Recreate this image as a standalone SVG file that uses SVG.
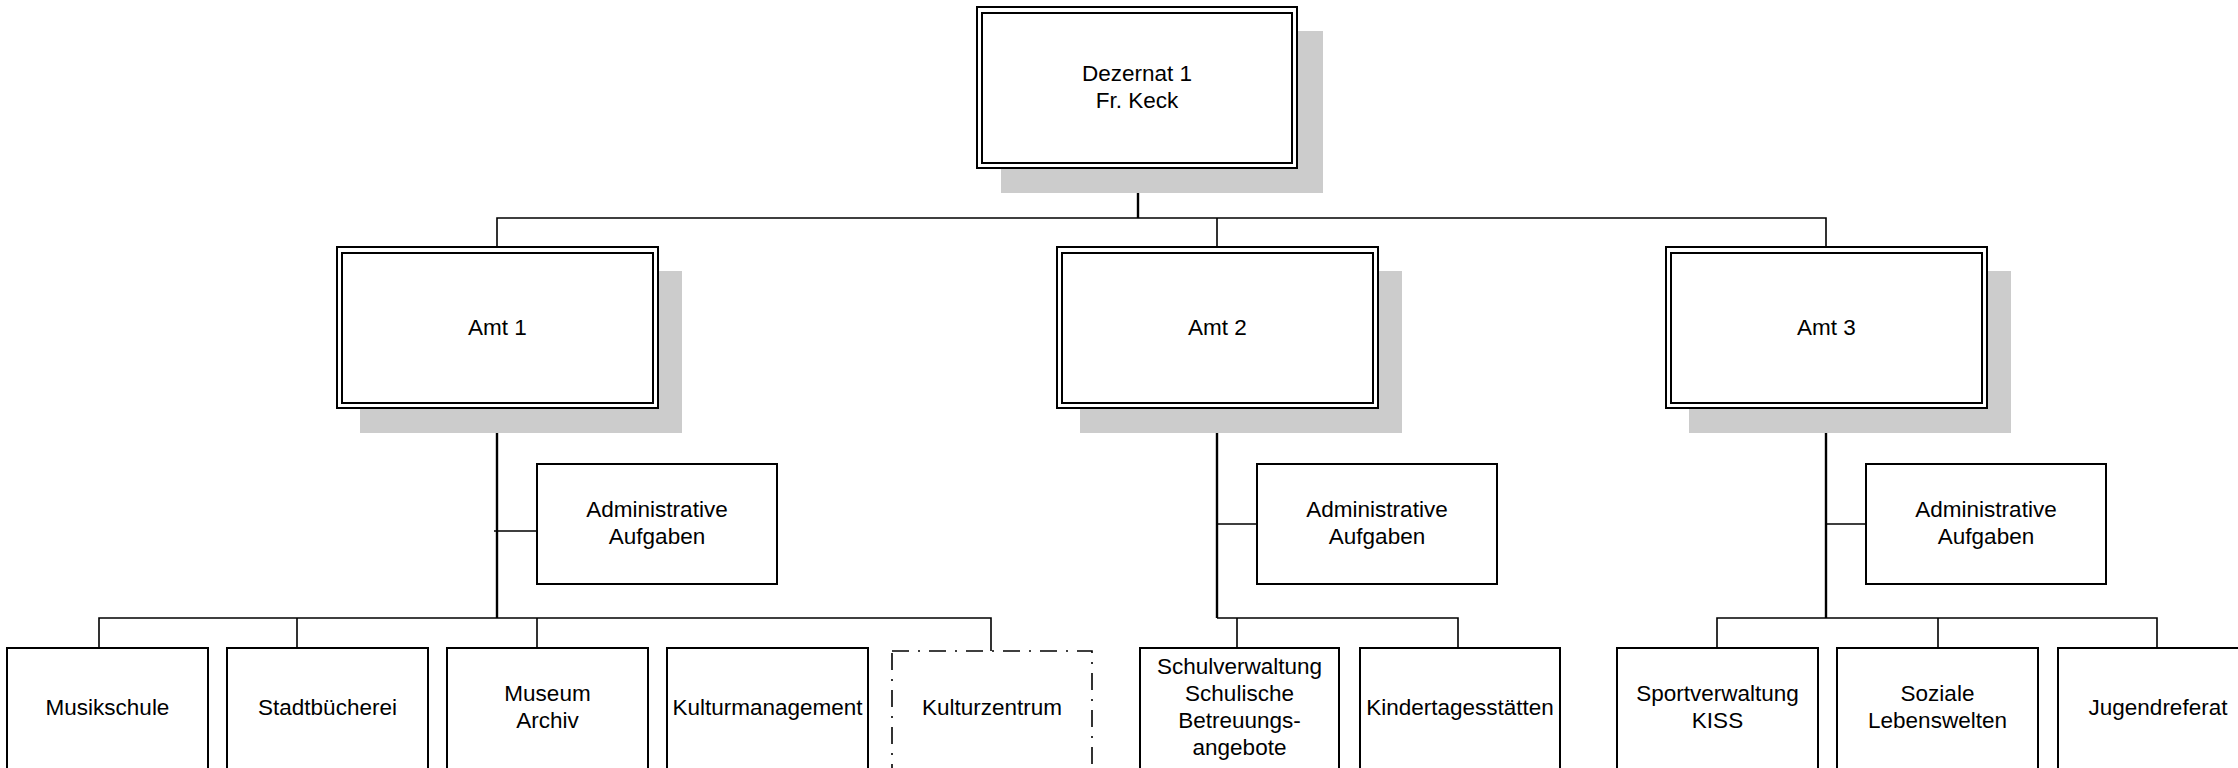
<svg xmlns="http://www.w3.org/2000/svg" width="2238" height="768" viewBox="0 0 2238 768">
<style>
.shadow{fill:#cccccc;stroke:none}
.outer,.inner,.box{fill:#ffffff;stroke:#000000;stroke-width:2}
.inner{fill:none}
.dashed{fill:#ffffff;stroke:#000000;stroke-width:1.6;stroke-dasharray:17 9 2 9}
.t{font-family:"Liberation Sans",Arial,sans-serif;font-size:22.5px;fill:#000000;text-anchor:middle}
.c{fill:none;stroke:#000000;stroke-width:1.6}
.cm{fill:none;stroke:#000000;stroke-width:2.4}
</style>
<rect width="2238" height="768" fill="#ffffff"/>
<g id="connectors">
<path class="cm" d="M1138 168V218"/>
<path class="c" d="M497 247V218H1826V247M1217 218V247"/>
<path class="cm" d="M497 408V618M1217 408V618M1826 408V618"/>
<path class="c" d="M494 531H537M1217 524H1257M1826 524H1866"/>
<path class="c" d="M99 648V618H991V651M297 618V648M537 618V648"/>
<path class="c" d="M1217 618H1458V648M1237 618V648"/>
<path class="c" d="M1717 648V618H2157V648M1938 618V648"/>
</g>
<g id="dezernat">
<rect class="shadow" x="1001" y="31" width="322" height="162"/>
<rect class="outer" x="977" y="7" width="320" height="161"/>
<rect class="inner" x="982" y="13" width="310" height="150"/>
<text class="t" x="1137" y="81">Dezernat 1</text>
<text class="t" x="1137" y="108">Fr. Keck</text>
</g>
<g id="amt1">
<rect class="shadow" x="360" y="271" width="322" height="162"/>
<rect class="outer" x="337" y="247" width="321" height="161"/>
<rect class="inner" x="342" y="253" width="311" height="150"/>
<text class="t" x="497.5" y="335">Amt 1</text>
</g>
<g id="amt2">
<rect class="shadow" x="1080" y="271" width="322" height="162"/>
<rect class="outer" x="1057" y="247" width="321" height="161"/>
<rect class="inner" x="1062" y="253" width="311" height="150"/>
<text class="t" x="1217.5" y="335">Amt 2</text>
</g>
<g id="amt3">
<rect class="shadow" x="1689" y="271" width="322" height="162"/>
<rect class="outer" x="1666" y="247" width="321" height="161"/>
<rect class="inner" x="1671" y="253" width="311" height="150"/>
<text class="t" x="1826.5" y="335">Amt 3</text>
</g>
<g id="admin1">
<rect class="box" x="537" y="464" width="240" height="120"/>
<text class="t" x="657" y="517">Administrative</text>
<text class="t" x="657" y="544">Aufgaben</text>
</g>
<g id="admin2">
<rect class="box" x="1257" y="464" width="240" height="120"/>
<text class="t" x="1377" y="517">Administrative</text>
<text class="t" x="1377" y="544">Aufgaben</text>
</g>
<g id="admin3">
<rect class="box" x="1866" y="464" width="240" height="120"/>
<text class="t" x="1986" y="517">Administrative</text>
<text class="t" x="1986" y="544">Aufgaben</text>
</g>
<g id="musikschule">
<rect class="box" x="7" y="648" width="201" height="124"/>
<text class="t" x="107.5" y="715">Musikschule</text>
</g>
<g id="stadtbuecherei">
<rect class="box" x="227" y="648" width="201" height="124"/>
<text class="t" x="327.5" y="715">Stadtbücherei</text>
</g>
<g id="museum">
<rect class="box" x="447" y="648" width="201" height="124"/>
<text class="t" x="547.5" y="701">Museum</text>
<text class="t" x="547.5" y="728">Archiv</text>
</g>
<g id="kulturmanagement">
<rect class="box" x="667" y="648" width="201" height="124"/>
<text class="t" x="767.5" y="715">Kulturmanagement</text>
</g>
<g id="kulturzentrum">
<rect class="dashed" x="892" y="651" width="200" height="124"/>
<text class="t" x="992" y="715">Kulturzentrum</text>
</g>
<g id="schulverwaltung">
<rect class="box" x="1140" y="648" width="199" height="124"/>
<text class="t" x="1239.5" y="674">Schulverwaltung</text>
<text class="t" x="1239.5" y="701">Schulische</text>
<text class="t" x="1239.5" y="728">Betreuungs-</text>
<text class="t" x="1239.5" y="755">angebote</text>
</g>
<g id="kindertagesstaetten">
<rect class="box" x="1360" y="648" width="200" height="124"/>
<text class="t" x="1460" y="715">Kindertagesstätten</text>
</g>
<g id="sportverwaltung">
<rect class="box" x="1617" y="648" width="201" height="124"/>
<text class="t" x="1717.5" y="701">Sportverwaltung</text>
<text class="t" x="1717.5" y="728">KISS</text>
</g>
<g id="soziale">
<rect class="box" x="1837" y="648" width="201" height="124"/>
<text class="t" x="1937.5" y="701">Soziale</text>
<text class="t" x="1937.5" y="728">Lebenswelten</text>
</g>
<g id="jugendreferat">
<rect class="box" x="2058" y="648" width="201" height="124"/>
<text class="t" x="2158" y="715">Jugendreferat</text>
</g>
</svg>
